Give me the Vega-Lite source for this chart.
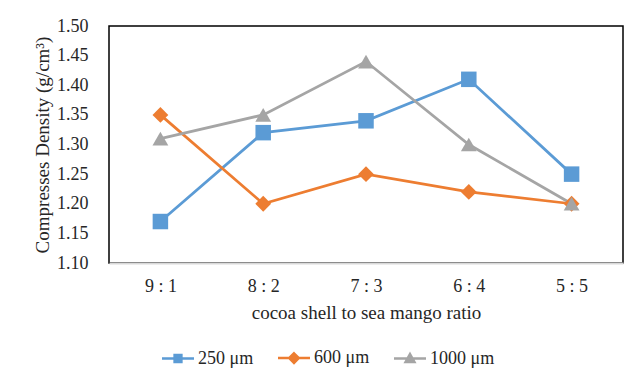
{
  "$schema": "https://vega.github.io/schema/vega-lite/v6.json",
  "width": 514,
  "height": 237,
  "autosize": {"type": "none"},
  "padding": {"left": 109, "top": 26, "right": 17, "bottom": 124},
  "background": "white",
  "config": {
    "view": {"stroke": "#000000", "strokeWidth": 1.5},
    "font": "Liberation Serif",
    "axis": {"labelFont": "Liberation Serif", "titleFont": "Liberation Serif", "labelColor": "#262626", "titleColor": "#262626", "titleFontWeight": "normal", "grid": false, "ticks": false}
  },
  "data": {
    "values": [
      {"ratio": "9 : 1", "size": "250 μm", "density": 1.17},
      {"ratio": "8 : 2", "size": "250 μm", "density": 1.32},
      {"ratio": "7 : 3", "size": "250 μm", "density": 1.34},
      {"ratio": "6 : 4", "size": "250 μm", "density": 1.41},
      {"ratio": "5 : 5", "size": "250 μm", "density": 1.25},
      {"ratio": "9 : 1", "size": "600 μm", "density": 1.35},
      {"ratio": "8 : 2", "size": "600 μm", "density": 1.20},
      {"ratio": "7 : 3", "size": "600 μm", "density": 1.25},
      {"ratio": "6 : 4", "size": "600 μm", "density": 1.22},
      {"ratio": "5 : 5", "size": "600 μm", "density": 1.20},
      {"ratio": "9 : 1", "size": "1000 μm", "density": 1.31},
      {"ratio": "8 : 2", "size": "1000 μm", "density": 1.35},
      {"ratio": "7 : 3", "size": "1000 μm", "density": 1.44},
      {"ratio": "6 : 4", "size": "1000 μm", "density": 1.30},
      {"ratio": "5 : 5", "size": "1000 μm", "density": 1.20}
    ]
  },
  "encoding": {
    "x": {
      "field": "ratio",
      "type": "ordinal",
      "sort": ["9 : 1", "8 : 2", "7 : 3", "6 : 4", "5 : 5"],
      "scale": {"type": "point", "padding": 0.5},
      "axis": {"title": "cocoa shell to sea mango ratio", "labelAngle": 0, "labelFontSize": 18, "titleFontSize": 19, "labelPadding": 14, "titlePadding": 8, "domainColor": "#D9D9D9", "domainWidth": 2}
    },
    "y": {
      "field": "density",
      "type": "quantitative",
      "scale": {"domain": [1.1, 1.5], "nice": false, "zero": false},
      "axis": {"title": "Compresses Density (g/cm³)", "values": [1.1, 1.15, 1.2, 1.25, 1.3, 1.35, 1.4, 1.45, 1.5], "format": ".2f", "labelFontSize": 18, "titleFontSize": 19, "labelPadding": 21, "titlePadding": 4, "domain": false}
    }
  },
  "layer": [
    {
      "mark": {"type": "line", "strokeWidth": 2.75},
      "encoding": {
        "stroke": {
          "field": "size",
          "type": "nominal",
          "scale": {"range": ["#A5A5A5", "#5B9BD5", "#ED7D31"]},
          "legend": null
        }
      }
    },
    {
      "transform": [{"filter": "datum.size === '250 μm'"}],
      "mark": {"type": "point", "filled": true, "opacity": 1, "shape": "square", "size": 240},
      "encoding": {"fill": {"field": "size", "type": "nominal", "scale": {"range": ["#A5A5A5", "#5B9BD5", "#ED7D31"]}, "legend": null}}
    },
    {
      "transform": [{"filter": "datum.size === '600 μm'"}],
      "mark": {"type": "point", "filled": true, "opacity": 1, "shape": "diamond", "size": 250},
      "encoding": {"fill": {"field": "size", "type": "nominal", "legend": null}}
    },
    {
      "transform": [{"filter": "datum.size === '1000 μm'"}],
      "mark": {"type": "point", "filled": true, "opacity": 1, "shape": "triangle-up", "size": 250},
      "encoding": {"fill": {"field": "size", "type": "nominal", "legend": null}}
    },
    {
      "mark": {"type": "point", "filled": true, "opacity": 0},
      "encoding": {
        "color": {
          "field": "size",
          "type": "nominal",
          "scale": {"domain": ["250 μm", "600 μm", "1000 μm"], "range": ["#5B9BD5", "#ED7D31", "#A5A5A5"]},
          "legend": {"orient": "none", "legendX": 60, "legendY": 323, "direction": "horizontal", "title": null, "symbolSize": 64, "labelOffset": 11, "columnPadding": 19, "labelFont": "Liberation Serif", "labelFontSize": 18, "labelColor": "#262626",
            "encode": {"symbols": {"update": {"stroke": {"scale": "color", "field": "value"}, "strokeWidth": {"value": 2.5}, "opacity": {"value": 1}}}}}
        },
        "shape": {
          "field": "size",
          "type": "nominal",
          "scale": {"domain": ["250 μm", "600 μm", "1000 μm"], "range": ["M-4,0H4M-0.85,-0.85H0.85V0.85H-0.85Z", "M-4,0H4M0,-1.2L1.2,0L0,1.2L-1.2,0Z", "M-4,0H4M0,-1.1L1.1,0.85H-1.1Z"]},
          "legend": {"orient": "none", "legendX": 60, "legendY": 323, "direction": "horizontal", "title": null, "symbolSize": 64, "labelOffset": 11, "columnPadding": 19, "labelFont": "Liberation Serif", "labelFontSize": 18, "labelColor": "#262626",
            "encode": {"symbols": {"update": {"stroke": {"scale": "color", "field": "value"}, "strokeWidth": {"value": 2.5}, "opacity": {"value": 1}}}}}
        }
      }
    }
  ]
}
